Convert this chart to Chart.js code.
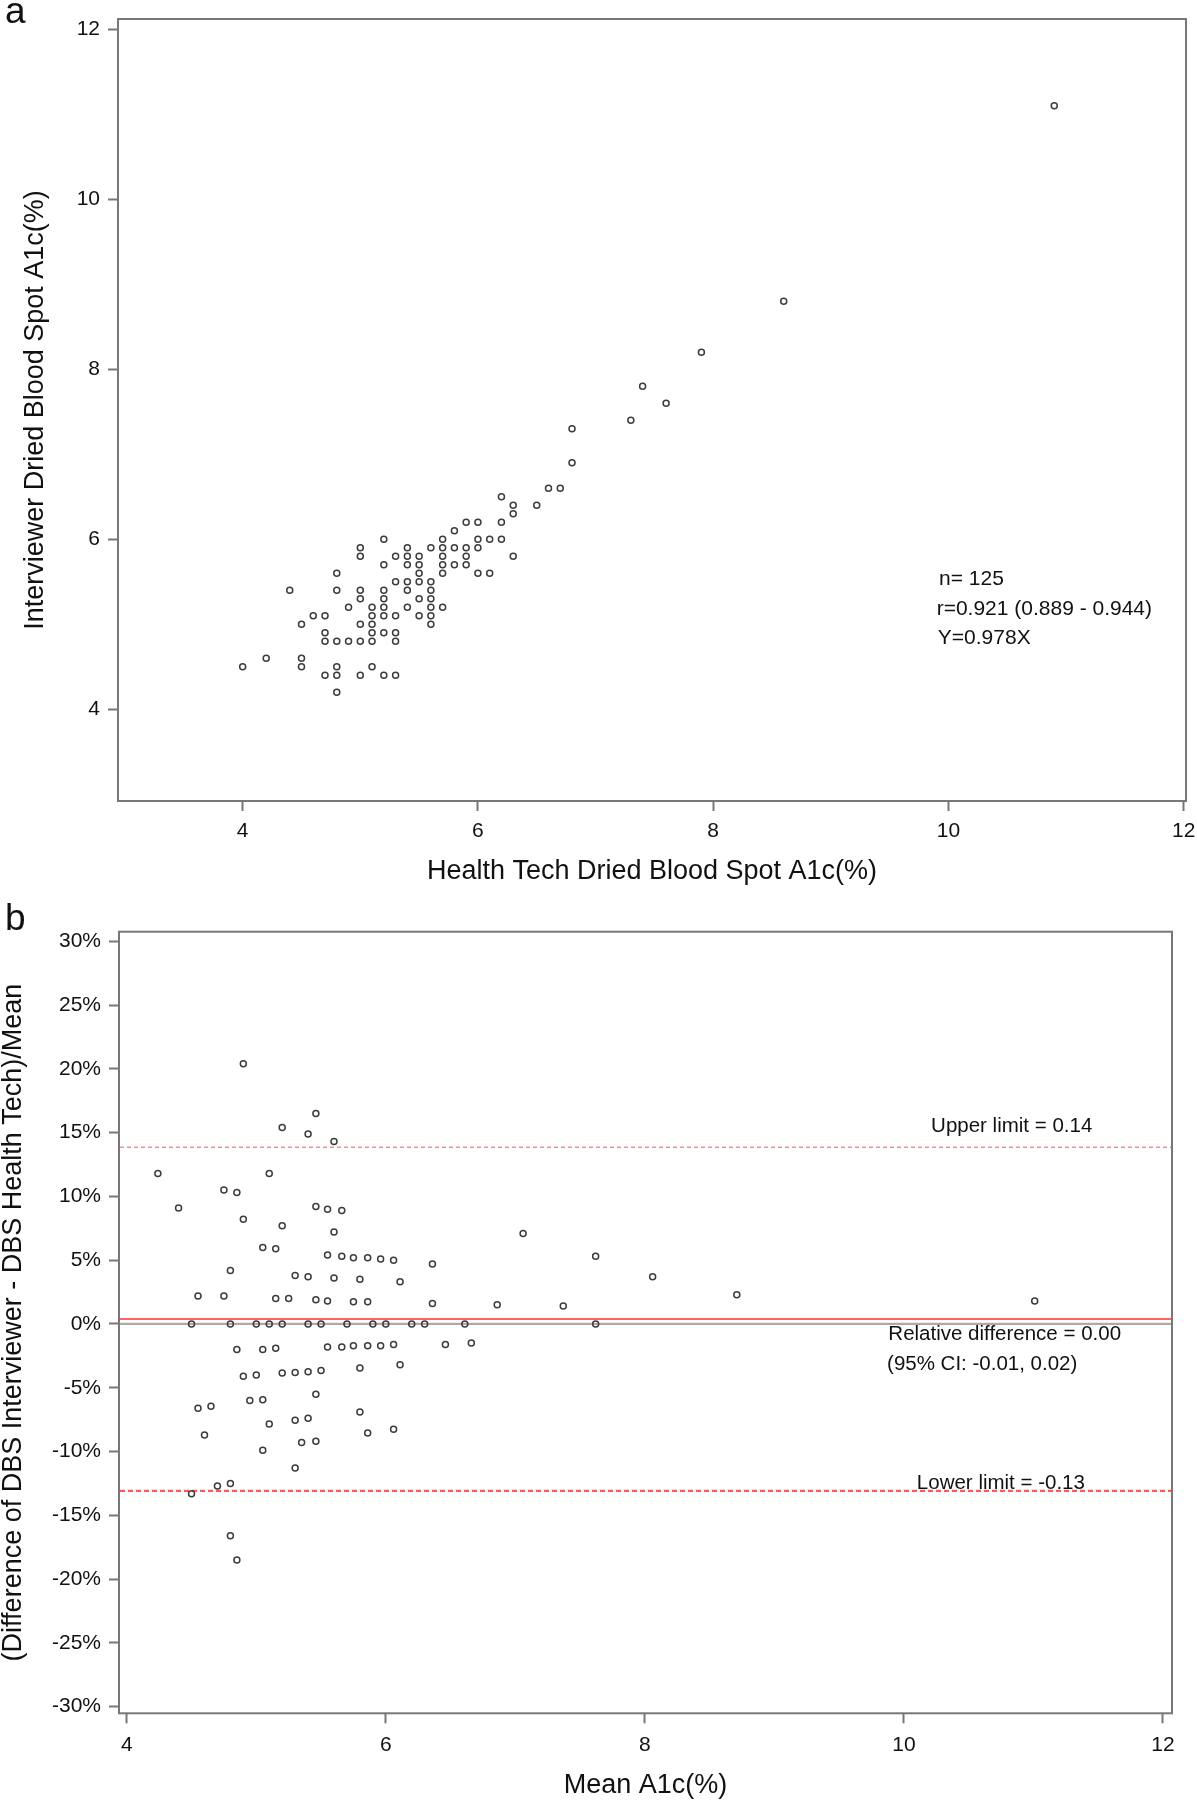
<!DOCTYPE html>
<html>
<head>
<meta charset="utf-8">
<script src="https://cdn.jsdelivr.net/npm/chart.js@4.4.1/dist/chart.umd.min.js"></script>
<style>
  html, body { margin: 0; padding: 0; background: #fff; overflow: hidden; }
  #wrap { position: relative; width: 1197px; height: 1800px; }
  canvas { position: absolute; left: 0; }
  #chartA { top: 0; }
  #chartB { top: 880px; }
  .panel { position: absolute; left: 5px; font: 37px "Liberation Sans", Arial, sans-serif; line-height: 1; color: #111; }
</style>
</head>
<body>
<div id="wrap">
  <canvas id="chartA" width="1197" height="900"></canvas>
  <canvas id="chartB" width="1197" height="930"></canvas>
  <div class="panel" style="top:-8px">a</div>
  <div class="panel" style="top:899px">b</div>
</div>
<script>
// ---- panel a: health tech vs interviewer DBS A1c (%) ----
const techA1c = [
  6.8, 6.8, 6.6, 6.7, 6.2, 6.3, 6.3, 6.5,
  5.9, 6.0, 6.2, 5.8,
  5.2, 5.7, 6.0, 6.1, 6.2,
  5.0, 5.4, 5.6, 5.7, 5.8, 5.9, 6.0,
  5.0, 5.3, 5.4, 5.5, 5.7, 5.9, 6.3,
  5.2, 5.4, 5.5, 5.7, 5.8, 5.9,
  4.8, 5.5, 5.7, 6.0, 6.1,
  5.3, 5.4, 5.5, 5.6,
  4.4, 4.8, 5.0, 5.2, 5.4, 5.6,
  5.0, 5.2, 5.5, 5.6,
  4.9, 5.1, 5.2, 5.4, 5.6, 5.7,
  4.6, 4.7, 5.1, 5.2, 5.3, 5.5, 5.6,
  4.5, 5.0, 5.1, 5.6,
  4.7, 5.1, 5.2, 5.3,
  4.7, 4.8, 4.9, 5.0, 5.1, 5.3,
  4.2, 4.5,
  4.0, 4.5, 4.8, 5.1,
  4.7, 4.8, 5.0, 5.2, 5.3,
  4.8,
  7.3, 7.4, 7.6, 7.9, 8.6, 10.9
]
const interviewerA1c = [
  7.3, 6.9, 6.6, 6.6, 6.5, 6.4, 6.3, 6.4,
  6.2, 6.2, 6.2, 6.1,
  6.0, 6.0, 6.0, 6.0, 6.0,
  5.9, 5.9, 5.9, 5.9, 5.9, 5.9, 5.9,
  5.8, 5.8, 5.8, 5.8, 5.8, 5.8, 5.8,
  5.7, 5.7, 5.7, 5.7, 5.7, 5.7,
  5.6, 5.6, 5.6, 5.6, 5.6,
  5.5, 5.5, 5.5, 5.5,
  5.4, 5.4, 5.4, 5.4, 5.4, 5.4,
  5.3, 5.3, 5.3, 5.3,
  5.2, 5.2, 5.2, 5.2, 5.2, 5.2,
  5.1, 5.1, 5.1, 5.1, 5.1, 5.1, 5.1,
  5.0, 5.0, 5.0, 5.0,
  4.9, 4.9, 4.9, 4.9,
  4.8, 4.8, 4.8, 4.8, 4.8, 4.8,
  4.6, 4.6,
  4.5, 4.5, 4.5, 4.5,
  4.4, 4.4, 4.4, 4.4, 4.4,
  4.2,
  7.4, 7.8, 7.6, 8.2, 8.8, 11.1
]
const ticksA = [4, 6, 8, 10, 12]
const statsText = ["n= 125", "r=0.921 (0.889 - 0.944)", "Y=0.978X"]

// ---- panel b: relative difference vs mean A1c ----
const meanA1c = [
  4.90, 5.46, 5.20, 5.40, 5.60, 4.24, 5.10, 4.75, 4.85, 4.40,
  5.46, 5.55, 5.66, 4.90, 5.20, 5.60, 7.06, 5.05, 5.15, 5.55,
  5.66, 5.75, 5.86, 5.96, 6.06, 6.36, 7.62, 4.80, 5.30, 5.40,
  5.60, 5.80, 6.11, 4.55, 4.75, 5.15, 5.25, 5.46, 5.55, 5.75,
  5.86, 6.36, 6.86, 7.37, 8.06, 8.71, 11.01,
  4.50, 4.80, 5.00, 5.10, 5.20, 5.40, 5.50, 5.70, 5.90, 6.00,
  6.20, 6.30, 6.61, 7.62,
  4.85, 5.05, 5.15, 5.55, 5.66, 5.75, 5.86, 5.96, 6.06, 6.46,
  6.66, 6.11, 5.80, 4.90, 5.00, 5.20, 5.30, 5.40, 5.50, 5.46,
  4.95, 5.05, 4.55, 4.65, 5.80, 5.40, 5.30, 5.10, 6.06, 5.86,
  4.60, 5.46, 5.35, 5.05, 5.30, 4.80, 4.70, 4.50, 4.80, 4.85
]
const relDiffPct = [
  20.4, 16.5, 15.4, 14.9, 14.3, 11.8, 11.8, 10.5, 10.3, 9.1,
  9.2, 9.0, 8.9, 8.2, 7.7, 7.2, 7.1, 6.0, 5.9, 5.4,
  5.3, 5.2, 5.2, 5.1, 5.0, 4.7, 5.3, 4.2, 3.8, 3.7,
  3.6, 3.5, 3.3, 2.2, 2.2, 2.0, 2.0, 1.9, 1.8, 1.75,
  1.75, 1.6, 1.5, 1.4, 3.7, 2.3, 1.8,
  0, 0, 0, 0, 0, 0, 0, 0, 0, 0,
  0, 0, 0, 0,
  -2.0, -2.0, -1.9, -1.8, -1.8, -1.7, -1.7, -1.7, -1.6, -1.6,
  -1.5, -3.2, -3.45, -4.1, -4.0, -3.85, -3.8, -3.75, -3.65, -5.5,
  -6.0, -5.95, -6.6, -6.45, -6.9, -7.4, -7.55, -7.85, -8.25, -8.55,
  -8.7, -9.2, -9.3, -9.9, -11.3, -12.5, -12.7, -13.3, -16.6, -18.5
]
const ticksBx = [4, 6, 8, 10, 12]
const ticksBy = [-30, -25, -20, -15, -10, -5, 0, 5, 10, 15, 20, 25, 30]
const upperLimit = 13.85
const meanDiff = 0.39
const lowerLimit = -13.09

const FONT = "'Liberation Sans', Arial, sans-serif"
const axisColor = "#777"
const markColor = "#3c3c3c"

function fitAxis(size) {
  return (scale) => {
    if (scale.isHorizontal()) scale.height = size
    else scale.width = size
    scale.paddingTop = scale.paddingBottom = scale.paddingLeft = scale.paddingRight = 0
  }
}

function fixedTicks(values) {
  return (scale) => { scale.ticks = values.map(v => ({ value: v })) }
}

const framePlugin = {
  id: "frame",
  beforeDatasetsDraw(chart) {
    const { ctx, chartArea: a } = chart
    ctx.save()
    ctx.strokeStyle = axisColor
    ctx.lineWidth = 2
    ctx.strokeRect(a.left, a.top, a.right - a.left, a.bottom - a.top)
    ctx.restore()
  }
}

// horizontal reference lines in panel b
const refLinesPlugin = {
  id: "refLines",
  beforeDatasetsDraw(chart) {
    const { ctx, chartArea: a, scales } = chart
    const lines = [
      { v: 0, color: "#aaaaaa", width: 2.2, dash: [] },
      { v: meanDiff, color: "#ff6464", width: 2.2, dash: [] },
      { v: upperLimit, color: "#ff8a8a", width: 1.5, dash: [4, 3] },
      { v: lowerLimit, color: "#ff5a5a", width: 2.2, dash: [5, 3] }
    ]
    ctx.save()
    lines.forEach(l => {
      const y = scales.y.getPixelForValue(l.v)
      ctx.strokeStyle = l.color
      ctx.lineWidth = l.width
      ctx.setLineDash(l.dash)
      ctx.beginPath()
      ctx.moveTo(a.left + 1, y)
      ctx.lineTo(a.right - 1, y)
      ctx.stroke()
    })
    ctx.restore()
  }
}

// text notes anchored at data coordinates
function notesPlugin(notes, size) {
  return {
    id: "notes",
    afterDatasetsDraw(chart) {
      const { ctx, scales } = chart
      ctx.save()
      ctx.fillStyle = "#111"
      ctx.font = `${size}px ${FONT}`
      ctx.textAlign = "left"
      ctx.textBaseline = "middle"
      notes.forEach(n => {
        ctx.fillText(n.text, scales.x.getPixelForValue(n.x), scales.y.getPixelForValue(n.y))
      })
      ctx.restore()
    }
  }
}

function scatterOptions(cfg) {
  return {
    responsive: false,
    animation: false,
    devicePixelRatio: 1,
    layout: { padding: cfg.padding },
    plugins: { legend: { display: false }, tooltip: { enabled: false } },
    scales: {
      x: {
        type: "linear",
        min: cfg.xMin, max: cfg.xMax,
        afterBuildTicks: fixedTicks(cfg.xTicks),
        afterFit: fitAxis(cfg.xAxisSize),
        border: { display: false },
        grid: { drawOnChartArea: false, drawTicks: true, tickLength: cfg.tickLen, tickColor: axisColor, tickWidth: 2 },
        ticks: { color: "#111", font: { family: FONT, size: 21 }, padding: cfg.xPad, maxRotation: 0 },
        title: { display: true, text: cfg.xTitle, color: "#111", font: { family: FONT, size: 27, lineHeight: 1 }, padding: { bottom: cfg.xTitlePad, top: 0 } }
      },
      y: {
        type: "linear",
        min: cfg.yMin, max: cfg.yMax,
        afterBuildTicks: fixedTicks(cfg.yTicks),
        afterFit: fitAxis(cfg.yAxisSize),
        border: { display: false },
        grid: { drawOnChartArea: false, drawTicks: true, tickLength: cfg.tickLen, tickColor: axisColor, tickWidth: 2 },
        ticks: { color: "#111", font: { family: FONT, size: 21 }, padding: 8, callback: cfg.yLabel },
        title: { display: true, text: cfg.yTitle, color: "#111", font: { family: FONT, size: 27, lineHeight: 1 }, padding: { top: cfg.yTitlePad, bottom: 0 } }
      }
    }
  }
}

const pointStyle = {
  pointRadius: 3,
  pointBorderWidth: 1.5,
  pointBorderColor: markColor,
  pointBackgroundColor: "rgba(0,0,0,0)",
  showLine: false
}

new Chart(document.getElementById("chartA"), {
  type: "scatter",
  data: {
    datasets: [{
      data: techA1c.map((x, i) => ({ x: x, y: interviewerA1c[i] })),
      ...pointStyle
    }]
  },
  options: scatterOptions({
    padding: { top: 19, right: 11, left: 0, bottom: 0 },
    xMin: 2.94, xMax: 12.02, yMin: 2.92, yMax: 12.12,
    xTicks: ticksA, yTicks: ticksA,
    xAxisSize: 99, yAxisSize: 118, tickLen: 10, xPad: 8,
    xTitle: "Health Tech Dried Blood Spot A1c(%)", xTitlePad: 14.5,
    yTitle: "Interviewer Dried Blood Spot A1c(%)", yTitlePad: 22,
    yLabel: (v) => v
  }),
  plugins: [framePlugin, notesPlugin([
    { text: statsText[0], x: 9.92, y: 5.53 },
    { text: statsText[1], x: 9.9, y: 5.18 },
    { text: statsText[2], x: 9.91, y: 4.83 }
  ], 21)]
})

new Chart(document.getElementById("chartB"), {
  type: "scatter",
  data: {
    datasets: [{
      data: meanA1c.map((x, i) => ({ x: x, y: relDiffPct[i] })),
      ...pointStyle
    }]
  },
  options: scatterOptions({
    padding: { top: 51.7, right: 25, left: 0, bottom: 0 },
    xMin: 3.94, xMax: 12.07, yMin: -30.52, yMax: 30.75,
    xTicks: ticksBx, yTicks: ticksBy,
    xAxisSize: 96.7, yAxisSize: 119, tickLen: 10, xPad: 9,
    xTitle: "Mean A1c(%)", xTitlePad: 10.5,
    yTitle: "(Difference of DBS Interviewer - DBS Health Tech)/Mean", yTitlePad: 0,
    yLabel: (v) => v + "%"
  }),
  plugins: [framePlugin, refLinesPlugin, notesPlugin([
    { text: "Upper limit = " + (upperLimit / 100).toFixed(2), x: 10.21, y: 15.47 },
    { text: "Relative difference = " + (meanDiff / 100).toFixed(2), x: 9.88, y: -0.85 },
    { text: "(95% CI: -0.01, 0.02)", x: 9.87, y: -3.19 },
    { text: "Lower limit = " + (lowerLimit / 100).toFixed(2), x: 10.1, y: -12.47 }
  ], 20.5)]
})
</script>
</body>
</html>
